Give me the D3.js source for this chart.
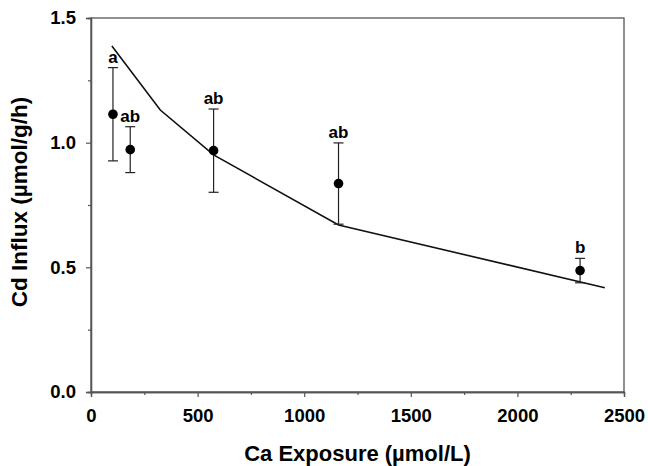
<!DOCTYPE html>
<html>
<head>
<meta charset="utf-8">
<script src="https://cdn.jsdelivr.net/npm/d3@7"></script>
<style>
  body { margin: 0; background: #fff; }
  text { font-family: "Liberation Sans", Arial, sans-serif; font-weight: bold; fill: #000; }
</style>
</head>
<body>
<div id="chart"></div>
<script>
// measured points (mean +/- error) and letter groups
var caExposure = [103, 184, 575, 1161, 2294];
var cdInflux = [1.114, 0.972, 0.968, 0.836, 0.487];
var cdError = [0.187, 0.092, 0.167, 0.163, 0.049];
var groupLabels = ["a", "ab", "ab", "ab", "b"];

// model line
var modelCa = [98, 325, 575, 1161, 2410];
var modelCd = [1.388, 1.131, 0.951, 0.670, 0.418];

var xTicks = [0, 500, 1000, 1500, 2000, 2500];
var xMinor = [250, 750, 1250, 1750, 2250];
var yTicks = [0.0, 0.5, 1.0, 1.5];
var yMinor = [0.25, 0.75, 1.25];

var svgWidth = 648;
var svgHeight = 466;
var margin = { top: 18, right: 24, bottom: 74, left: 91 };
var width = svgWidth - margin.left - margin.right;
var height = svgHeight - margin.top - margin.bottom;

var svg = d3.select("#chart")
  .append("svg")
  .attr("width", svgWidth)
  .attr("height", svgHeight);

var chartGroup = svg.append("g")
  .attr("transform", `translate(${margin.left}, ${margin.top})`);

var xScale = d3.scaleLinear().domain([0, 2500]).range([0, width]);
var yScale = d3.scaleLinear().domain([0, 1.5]).range([height, 0]);

// frame
chartGroup.append("rect")
  .attr("width", width)
  .attr("height", height)
  .attr("fill", "none")
  .attr("stroke", "#555")
  .attr("stroke-width", 1.3);

// axes
var xAxis = d3.axisBottom(xScale).tickValues(xTicks).tickSize(5).tickPadding(12).tickFormat(d3.format("d"));
var yAxis = d3.axisLeft(yScale).tickValues(yTicks).tickSize(5).tickPadding(10).tickFormat(d3.format(".1f"));

chartGroup.append("g")
  .attr("transform", `translate(0, ${height})`)
  .call(xAxis);
chartGroup.append("g").call(yAxis);

chartGroup.append("g")
  .attr("transform", `translate(0, ${height})`)
  .call(d3.axisBottom(xScale).tickValues(xMinor).tickSize(3).tickFormat(""));
chartGroup.append("g")
  .call(d3.axisLeft(yScale).tickValues(yMinor).tickSize(3).tickFormat(""));

chartGroup.selectAll(".domain").attr("stroke", "#555").attr("stroke-width", 1.3);
chartGroup.selectAll(".tick line").attr("stroke", "#555").attr("stroke-width", 1.2);
chartGroup.selectAll(".tick text")
  .style("font-size", "18.5px")
  .style("font-family", "Liberation Sans, Arial, sans-serif")
  .style("font-weight", "bold")
  .attr("fill", "#000");

// model line
var line = d3.line()
  .x(function(d, i) { return xScale(modelCa[i]); })
  .y(function(d) { return yScale(d); });

chartGroup.append("path")
  .datum(modelCd)
  .attr("d", line)
  .attr("fill", "none")
  .attr("stroke", "#111")
  .attr("stroke-width", 1.6);

// error bars
var bars = chartGroup.selectAll("g.err")
  .data(cdInflux)
  .enter()
  .append("g")
  .attr("class", "err");

bars.append("line")
  .attr("x1", (d, i) => xScale(caExposure[i]))
  .attr("x2", (d, i) => xScale(caExposure[i]))
  .attr("y1", (d, i) => yScale(d + cdError[i]))
  .attr("y2", (d, i) => yScale(d - cdError[i]))
  .attr("stroke", "#222")
  .attr("stroke-width", 1.2);

bars.append("line")
  .attr("x1", (d, i) => xScale(caExposure[i]) - 5)
  .attr("x2", (d, i) => xScale(caExposure[i]) + 5)
  .attr("y1", (d, i) => yScale(d + cdError[i]))
  .attr("y2", (d, i) => yScale(d + cdError[i]))
  .attr("stroke", "#222")
  .attr("stroke-width", 1.2);

bars.append("line")
  .attr("x1", (d, i) => xScale(caExposure[i]) - 5)
  .attr("x2", (d, i) => xScale(caExposure[i]) + 5)
  .attr("y1", (d, i) => yScale(d - cdError[i]))
  .attr("y2", (d, i) => yScale(d - cdError[i]))
  .attr("stroke", "#222")
  .attr("stroke-width", 1.2);

// points
chartGroup.selectAll("circle")
  .data(cdInflux)
  .enter()
  .append("circle")
  .attr("cx", (d, i) => xScale(caExposure[i]))
  .attr("cy", d => yScale(d))
  .attr("r", 4.8)
  .attr("fill", "#000");

// group letters
chartGroup.selectAll("text.grp")
  .data(groupLabels)
  .enter()
  .append("text")
  .attr("class", "grp")
  .attr("x", (d, i) => xScale(caExposure[i]))
  .attr("y", (d, i) => yScale(cdInflux[i] + cdError[i]) - 5)
  .attr("text-anchor", "middle")
  .style("font-size", "17px")
  .text(d => d);

// axis titles
svg.append("text")
  .attr("x", margin.left + width / 2)
  .attr("y", 461)
  .attr("text-anchor", "middle")
  .style("font-size", "22px")
  .text("Ca Exposure (\u00b5mol/L)");

svg.append("text")
  .attr("transform", "translate(27, 202) rotate(-90)")
  .attr("text-anchor", "middle")
  .style("font-size", "22.5px")
  .text("Cd Influx (\u00b5mol/g/h)");
</script>
</body>
</html>
